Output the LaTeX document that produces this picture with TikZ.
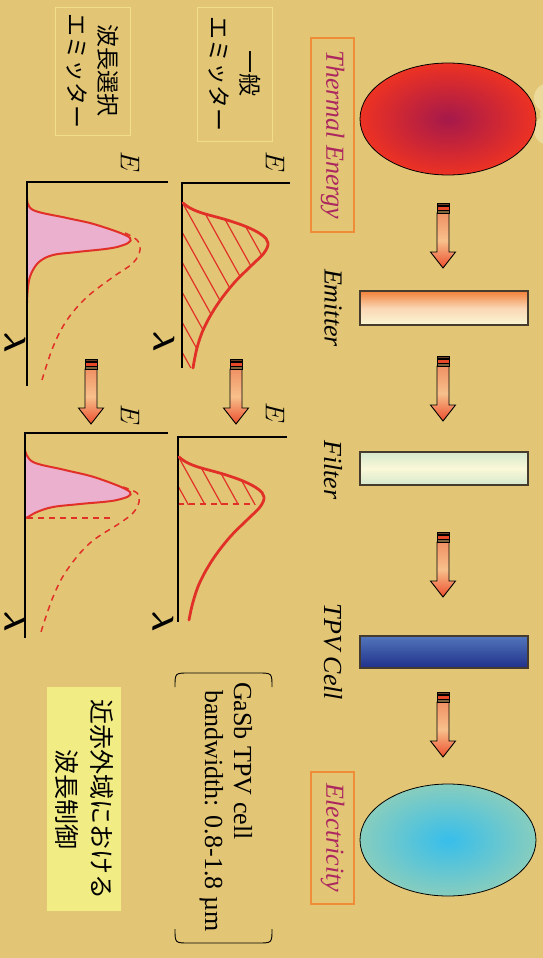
\RequirePackage{fix-cm}
\documentclass[tikz,border=0pt]{standalone}
\usepackage{fontspec}
\setmainfont{Liberation Serif}
\newfontfamily\jpfont{Noto Sans CJK JP}
\usetikzlibrary{shapes.geometric}

\definecolor{parch}{RGB}{226,198,118}
\definecolor{parchlight}{RGB}{243,232,178}
\definecolor{arrowtop}{RGB}{240,145,100}
\definecolor{arrowmid}{RGB}{247,192,140}
\definecolor{arrowtip}{RGB}{236,78,45}
\definecolor{stripedark}{RGB}{110,62,40}
\definecolor{stripered}{RGB}{232,72,42}
\definecolor{stripeolive}{RGB}{125,100,62}
\definecolor{curvered}{RGB}{225,48,40}
\definecolor{pinkarea}{RGB}{234,176,205}
\definecolor{crimsontext}{RGB}{172,38,95}
\definecolor{labelbox}{RGB}{238,140,55}
\definecolor{palebox}{RGB}{240,222,140}
\definecolor{notefill}{RGB}{242,236,132}
\definecolor{heatcore}{RGB}{165,25,75}
\definecolor{heatrim}{RGB}{237,50,35}
\definecolor{powercore}{RGB}{55,190,235}
\definecolor{powerrim}{RGB}{135,205,190}

\tikzset{
  flowarrow/.pic={
    \shade[top color=arrowtop, bottom color=arrowtip, middle color=arrowmid,
           draw=black, line width=0.9]
      (-6,10) -- (-6,49) -- (-12.5,49) -- (0,65) -- (12.5,49) -- (6,49) -- (6,10) -- cycle;
    \filldraw[fill=stripedark, draw=black, line width=0.5] (-6,0) rectangle (6,2.6);
    \filldraw[fill=stripered, draw=black, line width=0.5] (-6,3.2) rectangle (6,7);
    \filldraw[fill=stripeolive, draw=black, line width=0.5] (-6,7.5) rectangle (6,10);
  },
  barbox/.style={rectangle, draw={rgb,255:red,70;green,60;blue,45}, line width=1.1,
    minimum width=168, minimum height=34, inner sep=0},
  blob/.style={ellipse, draw=black, line width=0.8, minimum width=176,
    minimum height=112, inner sep=0},
  energylabel/.style={rotate=-90, draw=labelbox, line width=1.3, text=crimsontext,
    font=\itshape\fontsize{26}{30}\selectfont, inner sep=0},
  stagelabel/.style={rotate=-90, font=\itshape\fontsize{26}{30}\selectfont},
  jplabel/.style={rotate=-90, align=center, font=\jpfont\fontsize{23}{31}\selectfont,
    draw=palebox, line width=0.8, inner sep=0},
  axisline/.style={black, line width=1.6},
  curveline/.style={curvered, line width=2.8, line cap=round},
  hatchline/.style={curvered, line width=1.2},
  dashline/.style={curvered, line width=1.5, dash pattern=on 6pt off 5pt},
  edgeline/.style={curvered, line width=2},
  axlabel/.style={rotate=-90, font=\fontsize{27}{30}\selectfont, inner sep=0},
  lamlabel/.style={rotate=-90, font=\fontsize{30}{32}\selectfont\boldmath, inner sep=0},
  bracketline/.style={black, line width=0.9},
}

\begin{document}
\begin{tikzpicture}[x=1pt, y=-1pt]
\useasboundingbox (0,0) rectangle (543,958);
\fill[parch] (0,0) rectangle (543,958);
\fill[parchlight, opacity=0.6] (549,98) circle (15) (549,130) circle (15) (552,114) circle (12);

% ---------- energy chain on the right ----------
\node[blob, inner color=heatcore, outer color=heatrim] (heat) at (448,119) {};
\node[energylabel, minimum width=194, minimum height=43] (heattxt) at (332.5,135) {Thermal Energy};

\pic (arr1) at (443,203) {flowarrow};
\node[barbox, top color={rgb,255:red,242;green,128;blue,56},
      bottom color={rgb,255:red,250;green,246;blue,212},
      middle color={rgb,255:red,250;green,214;blue,180}] (emitter) at (444,308) {};
\node[stagelabel] (emittertxt) at (333,308) {Emitter};

\pic (arr2) at (443,356) {flowarrow};
\node[barbox, minimum height=33, top color={rgb,255:red,214;green,232;blue,205},
      bottom color={rgb,255:red,214;green,232;blue,205},
      middle color={rgb,255:red,250;green,248;blue,216}] (filter) at (444,468.5) {};
\node[stagelabel] (filtertxt) at (333,470) {Filter};

\pic (arr3) at (443,532) {flowarrow};
\node[barbox, minimum height=32, top color={rgb,255:red,82;green,118;blue,188},
      bottom color={rgb,255:red,32;green,48;blue,138}] (cell) at (444,652) {};
\node[stagelabel] (celltxt) at (333,652) {TPV Cell};

\pic (arr4) at (443,692) {flowarrow};
\node[blob, inner color=powercore, outer color=powerrim] (power) at (448,840) {};
\node[energylabel, minimum width=132, minimum height=43] (powertxt) at (332.5,838) {Electricity};

% ---------- cell note ----------
\draw[bracketline] (175,687) .. controls (175,673) .. (189,673) -- (258,673)
      .. controls (272,673) .. (272,687);
\draw[bracketline] (175,929) .. controls (175,943) .. (189,943) -- (258,943)
      .. controls (272,943) .. (272,929);
\node[rotate=-90, anchor=base west, font=\fontsize{26}{30}\selectfont, inner sep=0]
  (celltype) at (234,682) {GaSb TPV cell};
\node[rotate=-90, anchor=base west, font=\fontsize{26}{30}\selectfont, inner sep=0]
  (cellband) at (205,690) {bandwidth: 0.8-1.8 µm};

% ---------- yellow note ----------
\node[rotate=-90, align=center, fill=notefill, minimum width=224, minimum height=74,
      inner sep=0, font=\jpfont\fontsize{25}{35}\selectfont] (nirnote) at (84,799)
  {近赤外域における\\波長制御};

% ---------- emitter type labels ----------
\node[jplabel, minimum width=134, minimum height=75] (plainlbl) at (234.5,74) {一般\\エミッター};
\node[jplabel, minimum width=128, minimum height=75] (selectlbl) at (92.5,71) {波長選択\\エミッター};

% ---------- graph: plain emitter ----------
\begin{scope}[shift={(182,183)}]
  \begin{scope}
    \clip plot[smooth, tension=0.6] coordinates {(1,20) (8,25) (20,30) (45,37) (65,44) (80,52)
      (86,60) (82,70) (70,82) (52,100) (35,122) (22,145) (15,165) (11,185)} -- (0,185) -- cycle;
    \foreach \k in {-7,...,6} {\draw[hatchline] (0,{19+30*\k}) -- ++(120,216);}
  \end{scope}
  \draw[axisline] (108,0) -- (0,0) -- (0,185);
  \draw[curveline] plot[smooth, tension=0.6] coordinates {(1,20) (8,25) (20,30) (45,37) (65,44)
    (80,52) (86,60) (82,70) (70,82) (52,100) (35,122) (22,145) (15,165) (11,185)};
  \node[axlabel] (e1) at (93,-21) {$E$};
  \node[lamlabel] (l1) at (-18,159) {$\lambda$};
\end{scope}

% ---------- graph: plain emitter after filter ----------
\begin{scope}[shift={(178,437)}]
  \begin{scope}
    \clip (0,0) rectangle (120,67);
    \clip plot[smooth, tension=0.6] coordinates {(1,20) (8,25) (20,30) (45,37) (65,44) (80,52)
      (86,60) (82,70) (70,82) (52,100) (35,122) (22,145) (15,165) (11,183)} -- (0,183) -- cycle;
    \foreach \k in {-7,...,6} {\draw[hatchline] (0,{19+30*\k}) -- ++(120,216);}
  \end{scope}
  \draw[dashline] (0,67) -- (76,67);
  \draw[axisline] (109,0) -- (0,0) -- (0,185);
  \draw[curveline] plot[smooth, tension=0.6] coordinates {(1,20) (8,25) (20,30) (45,37) (65,44)
    (80,52) (86,60) (82,70) (70,82) (52,100) (35,122) (22,145) (15,165) (11,183)};
  \node[axlabel] (e2) at (97,-24) {$E$};
  \node[lamlabel] (l2) at (-15,185) {$\lambda$};
\end{scope}

% ---------- graph: selective emitter ----------
\begin{scope}[shift={(27,182)}]
  \fill[pinkarea] plot[smooth, tension=0.6] coordinates {(0,16) (6,28) (40,36) (70,43) (103,56)
    (90,65) (50,70) (26,73) (12,80) (4,92) (1,105) (0,121)} -- cycle;
  \draw[edgeline] plot[smooth, tension=0.6] coordinates {(0,16) (6,28) (40,36) (70,43) (103,56)
    (90,65) (50,70) (26,73) (12,80) (4,92) (1,105) (0,121)};
  \draw[dashline] plot[smooth, tension=0.6] coordinates {(98,51) (110,58) (113,68) (106,81)
    (86,95) (60,115) (40,138) (26,165) (15,198)};
  \draw[axisline, line width=1.2] (141,0) -- (0,0) -- (0,204);
  \node[axlabel] (e3) at (103,-20) {$E$};
  \node[lamlabel] (l3) at (-12,161) {$\lambda$};
\end{scope}

% ---------- graph: selective emitter after filter ----------
\begin{scope}[shift={(25,433)}]
  \fill[pinkarea] plot[smooth, tension=0.6] coordinates {(0,17) (8,29) (40,37) (72,45) (105,59)
    (92,67) (55,71) (28,74) (12,79) (3,84) (0,85)} -- cycle;
  \draw[edgeline] plot[smooth, tension=0.6] coordinates {(0,17) (8,29) (40,37) (72,45) (105,59)
    (92,67) (55,71) (28,74) (12,79) (3,84) (0,85)};
  \draw[dashline] (2,85) -- (87,85);
  \draw[dashline] plot[smooth, tension=0.6] coordinates {(98,54) (112,60) (114,69) (108,80)
    (95,90) (65,110) (42,137) (28,164) (16,199)};
  \draw[axisline, line width=1.2] (143,0) -- (0,0) -- (0,205);
  \node[axlabel] (e4) at (105,-18) {$E$};
  \node[lamlabel] (l4) at (-10,189) {$\lambda$};
\end{scope}

% ---------- arrows between graphs ----------
\pic (arr5) at (236,359) {flowarrow};
\pic (arr6) at (91,359) {flowarrow};
\end{tikzpicture}
\end{document}
